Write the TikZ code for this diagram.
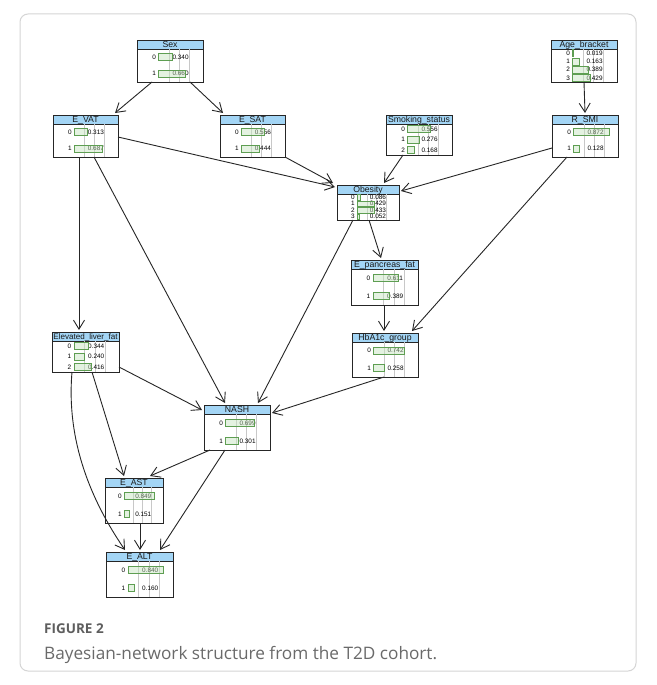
\documentclass[tikz,border=0pt]{standalone}
\usepackage{fontspec}
\usepackage{graphicx}
\usetikzlibrary{arrows.meta,calc}
\newfontfamily\nodefont{Liberation Sans}
\newfontfamily\capfont{Open Sans}
\definecolor{titleblue}{HTML}{A3D5F5}
\definecolor{barfill}{HTML}{C5E3BD}
\definecolor{barline}{HTML}{5E9E52}
\definecolor{gridgray}{HTML}{C8C8C8}
\definecolor{edgecol}{HTML}{262626}
\definecolor{framegray}{HTML}{D5D5D5}
\definecolor{figlabel}{HTML}{5E5E5E}
\definecolor{captext}{HTML}{6A6A6A}
\newsavebox\bntitlebox
\tikzset{
 bnbox/.style={rectangle, inner sep=0pt, outer sep=0pt, anchor=north west},
 bnborder/.style={draw=black!85, line width=0.8pt},
 bntitle/.style={inner sep=0pt, anchor=base, text=black!90},
 bnval/.style={inner sep=0pt, font=\nodefont\fontsize{6.4}{6.7}\selectfont},
 bnstate/.style={inner sep=0pt, anchor=east, font=\nodefont\fontsize{6.4}{6.7}\selectfont},
 bnbar/.style={draw=barline, fill=barfill, fill opacity=0.45, line width=0.6pt},
 bngrid/.style={draw=gridgray, line width=0.5pt},
 bnedge/.style={draw=edgecol, line width=0.9pt, -{Straight Barb[length=9pt,width=11pt]}},
}
\newcommand{\bnnode}[8]{%
  \node[bnbox, minimum width=#4pt, minimum height=#5pt] (#1) at (#2,#3) {};
  \fill[black!45] (#2+1.2,#3+1.2) rectangle ++(#4,#5);
  \fill[white] (#2,#3) rectangle ++(#4,#5);
  \fill[titleblue] (#2,#3) rectangle ++(#4,9);
  \draw[black!85,line width=0.6pt] (#2,#3+9) -- ++(#4,0);
  \foreach \k in {1,2,3} \draw[bngrid] (#2+0.33*#4+\k*0.155*#4,#3+9) -- ++(0,#5-9);
  \node[bntitle] (#1t) at (#2+0.5*#4,#3+7.6) {\sbox\bntitlebox{\nodefont\fontsize{8.7}{9}\selectfont #6}\ifdim\wd\bntitlebox>\dimexpr#4pt-3pt\relax\resizebox{\dimexpr#4pt-3pt\relax}{!}{\usebox\bntitlebox}\else\usebox\bntitlebox\fi};
  \foreach \v [count=\i from 0] in {#8} {
    \pgfmathsetmacro\cy{#3+9+(\i+0.5)*(#5-9)/#7}
    \pgfmathsetmacro\bh{min(7,(#5-9)/#7-1.3)}
    \node[bnstate] (#1s\i) at (#2+0.29*#4,\cy) {\i};
    \node[bnval] (#1v\i) at (#2+0.66*#4,\cy) {\v};
    \path[bnbar] (#2+0.33*#4,\cy-\bh/2) rectangle (#2+0.33*#4+\v*0.62*#4,\cy+\bh/2);
  }
  \draw[bnborder] (#1.north west) rectangle (#1.south east);
}
\begin{document}
\begin{tikzpicture}[x=1pt,y=-1pt]
\useasboundingbox (0,0) rectangle (656,685);
\fill[white] (0,0) rectangle (656,685);
\draw[framegray, line width=1pt, rounded corners=8pt] (20,14) rectangle (636,671);

\bnnode{sex}{137}{40}{66}{42}{Sex}{2}{0.340,0.660}
\bnnode{age}{551}{40}{66}{42}{Age\_bracket}{4}{0.019,0.163,0.389,0.429}
\bnnode{evat}{53}{115}{65}{42}{E\_VAT}{2}{0.313,0.687}
\bnnode{esat}{220}{115}{65}{42}{E\_SAT}{2}{0.556,0.444}
\bnnode{smoke}{386}{115}{66}{40}{Smoking\_status}{3}{0.556,0.276,0.168}
\bnnode{rsmi}{552}{115}{66}{42}{R\_SMI}{2}{0.872,0.128}
\bnnode{obesity}{337}{185}{62}{35}{Obesity}{4}{0.086,0.429,0.433,0.052}
\bnnode{epanc}{351}{260}{67}{45}{E\_pancreas\_fat}{2}{0.611,0.389}
\bnnode{elf}{52}{332}{67}{40}{Elevated\_liver\_fat}{3}{0.344,0.240,0.416}
\bnnode{hba}{352}{333}{66}{44}{HbA1c\_group}{2}{0.742,0.258}
\bnnode{nash}{204}{405}{66}{45}{NASH}{2}{0.699,0.301}
\bnnode{east}{105}{478}{58}{45}{E\_AST}{2}{0.849,0.151}
\bnnode{ealt}{106}{552}{67}{45}{E\_ALT}{2}{0.840,0.160}

\draw[bnedge] ($(sex.north west)+(15,42)$) -- ($(evat.north west)+(62,-2)$);
\draw[bnedge] ($(sex.north west)+(53,42)$) -- ($(esat.north west)+(3,-2)$);
\draw[bnedge] ($(age.north west)+(33,42)$) -- ($(rsmi.north west)+(33,-2)$);
\draw[bnedge] ($(evat.north west)+(65,22)$) -- ($(obesity.north west)+(-2,2)$);
\draw[bnedge] ($(esat.north west)+(65,42)$) -- ($(obesity.north west)+(-4,-2)$);
\draw[bnedge] ($(smoke.north west)+(17,40)$) -- ($(obesity.north west)+(47,-2)$);
\draw[bnedge] ($(rsmi.north west)+(0,33)$) -- ($(obesity.north west)+(64,6)$);
\draw[bnedge] ($(rsmi.north west)+(15,42)$) -- ($(hba.north west)+(60,-2)$);
\draw[bnedge] ($(obesity.north west)+(32,35)$) -- ($(epanc.north west)+(30,-2)$);
\draw[bnedge] ($(obesity.north west)+(16,35)$) -- ($(nash.north west)+(54,-2)$);
\draw[bnedge] ($(evat.north west)+(26,42)$) -- ($(elf.north west)+(27,-2)$);
\draw[bnedge] ($(evat.north west)+(41,42)$) -- ($(nash.north west)+(21,-2)$);
\draw[bnedge] ($(epanc.north west)+(33,45)$) -- ($(hba.north west)+(32,-2)$);
\draw[bnedge] ($(elf.north west)+(67,35)$) -- ($(nash.north west)+(-2,5)$);
\draw[bnedge] ($(hba.north west)+(32,44)$) -- ($(nash.north west)+(68,8)$);
\draw[bnedge] ($(elf.north west)+(40,40)$) -- ($(east.north west)+(19,-2)$);
\draw[bnedge] ($(elf.north west)+(20,40)$) .. controls ($(elf.north west)+(14,110)$) and ($(elf.north west)+(40,170)$) .. ($(ealt.north west)+(19,-2)$);
\draw[bnedge] ($(nash.north west)+(6,45)$) -- ($(east.north west)+(45,-2)$);
\draw[bnedge] ($(nash.north west)+(21,45)$) -- ($(ealt.north west)+(54,-2)$);
\draw[bnedge] ($(east.north west)+(35,45)$) -- ($(ealt.north west)+(34,-2)$);

\node[anchor=base west, inner sep=0pt, text=figlabel, font=\capfont\bfseries\fontsize{13.5}{15}\selectfont] (figlab) at (44,633) {FIGURE 2};
\node[anchor=base west, inner sep=0pt, text=captext, font=\capfont\fontsize{17.2}{19}\selectfont] (figcap) at (44,659) {Bayesian-network structure from the T2D cohort.};
\end{tikzpicture}
\end{document}
